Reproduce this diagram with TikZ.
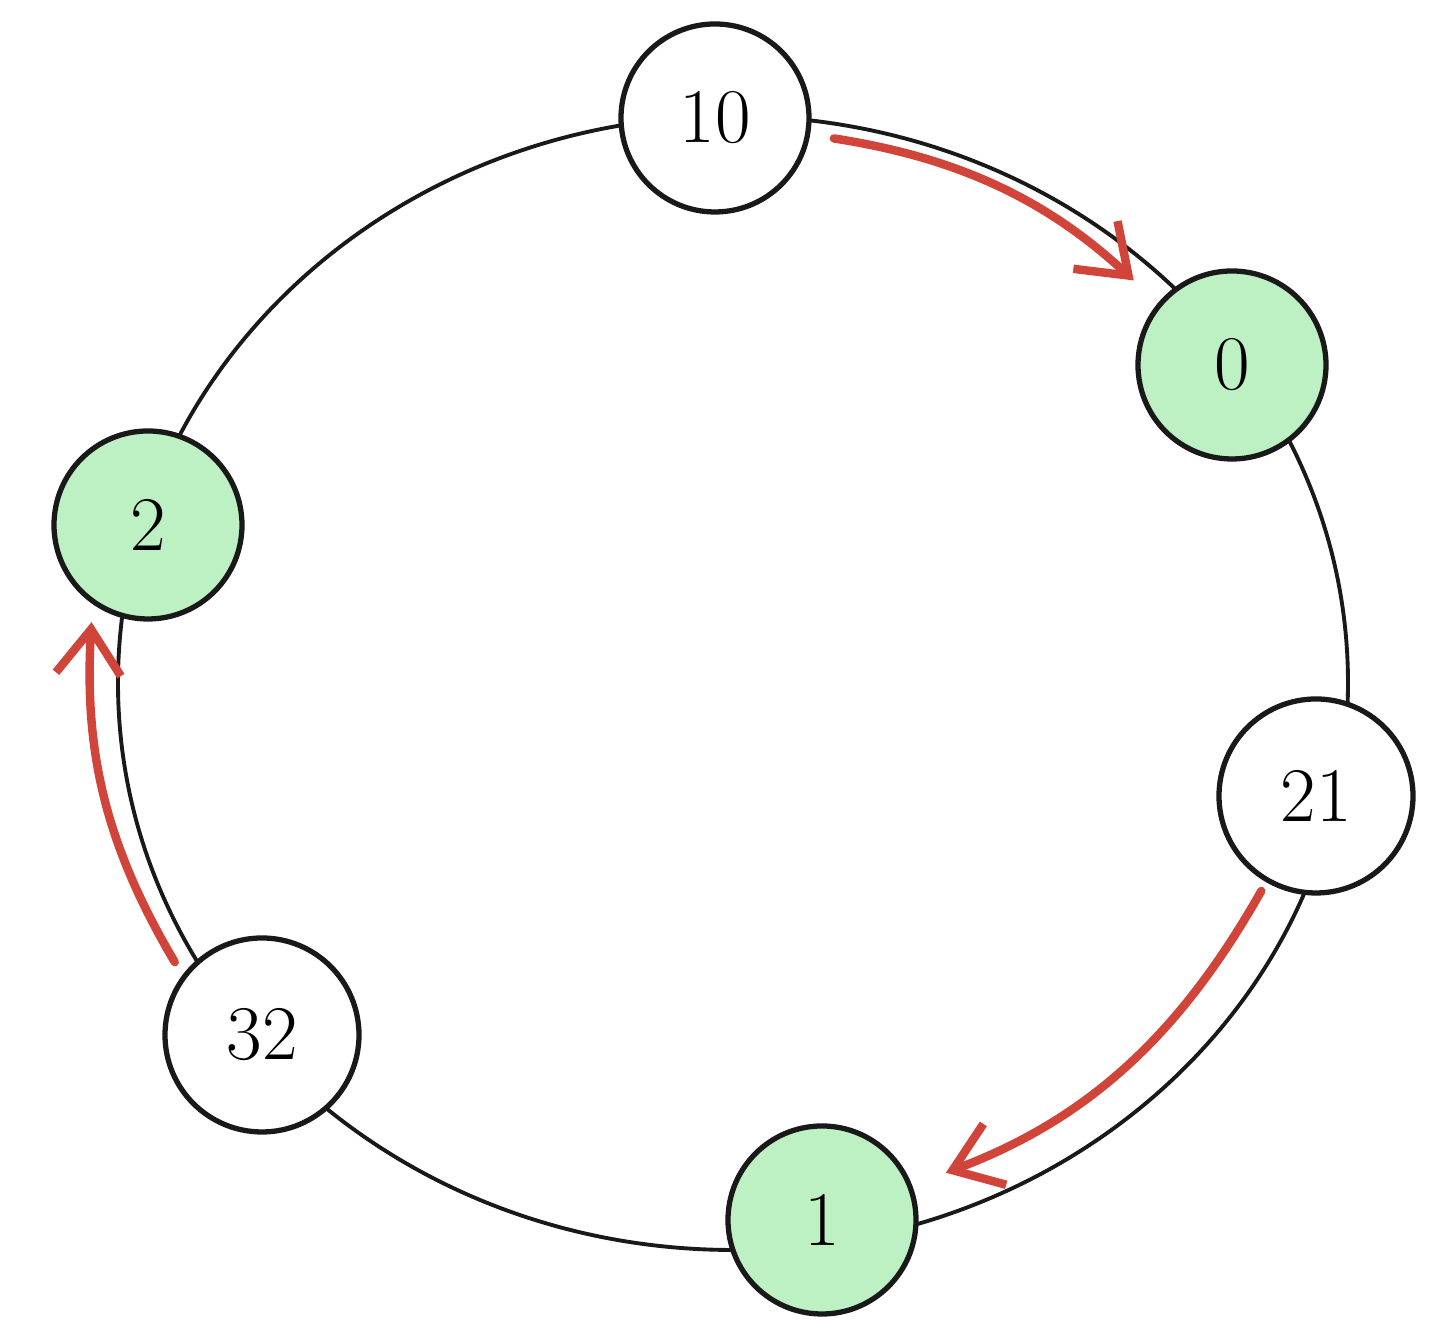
\documentclass[tikz,border=0pt]{standalone}
\usepackage{amsmath}
\usetikzlibrary{arrows.meta}
\definecolor{ringgreen}{HTML}{BDF0C2}
\definecolor{hopred}{HTML}{D1443A}

\begin{document}
\begin{tikzpicture}[
    peer/.style={circle,draw=black!90,line width=1.5pt,fill=white,minimum size=1.88cm,inner sep=0pt,font=\fontsize{22}{26}\selectfont},
    owner/.style={peer,fill=ringgreen},
    hop/.style={draw=hopred,line width=2.4pt,line cap=round,-{Straight Barb[length=4.5mm,width=6.5mm,line width=2.4pt]}}
]
    \useasboundingbox (0,0) rectangle (14.54,13.40);
    % the ring
    \draw[line width=1.1pt,black!90] (7.33,6.57) ellipse (6.15cm and 5.67cm);

    % keys and nodes on the ring
    \node[peer] (k10) at (7.15,12.22) {10};
    \node[owner] (n0) at (12.32,9.75) {0};
    \node[peer,minimum size=1.94cm] (k21) at (13.16,5.44) {21};
    \node[owner] (n1) at (8.22,1.20) {1};
    \node[peer,minimum size=1.94cm] (k32) at (2.62,3.05) {32};
    \node[owner] (n2) at (1.48,8.15) {2};

    % lookups going clockwise
    \draw[hop,shorten <=0.24cm,shorten >=0.33cm] (k10.-10) to[bend left=17] (n0.140);
    \draw[hop,shorten <=0.1cm,shorten >=0.36cm] (k21.240) to[bend left=20] (n1.21);
    \draw[hop,shorten <=0.15cm,shorten >=0.18cm] (k32.143) to[bend left=17] (n2.235);
\end{tikzpicture}
\end{document}
